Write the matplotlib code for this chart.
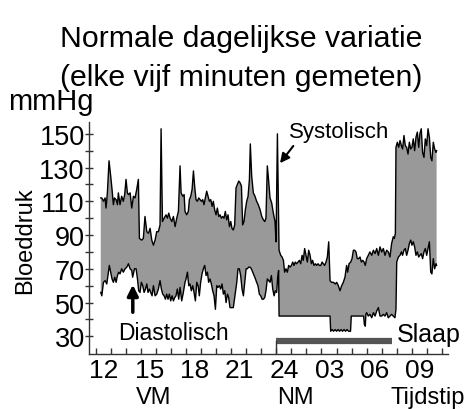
import numpy as np
import matplotlib
matplotlib.use('Agg')
import matplotlib.pyplot as plt

plt.rcParams['font.family'] = ['Liberation Sans', 'DejaVu Sans']

# clock time in hours (past 24 = next morning), pressure in mmHg
t_sys = [11.78, 11.85, 11.96, 12.07, 12.13, 12.22, 12.33, 12.44, 12.53, 12.62,
         12.69, 12.80, 12.89, 12.95, 13.06, 13.17, 13.28, 13.37, 13.46, 13.55,
         13.62, 13.73, 13.84, 13.95, 14.06, 14.17, 14.28, 14.35, 14.50, 14.61,
         14.72, 14.84, 14.95, 15.06, 15.17, 15.28, 15.39, 15.50, 15.61, 15.72,
         15.79, 15.88, 15.99, 16.12, 16.21, 16.30, 16.39, 16.50, 16.61, 16.72,
         16.83, 16.94, 17.05, 17.12, 17.23, 17.32, 17.38, 17.49, 17.60, 17.67,
         17.76, 17.85, 17.94, 18.02, 18.11, 18.20, 18.29, 18.38, 18.47, 18.56,
         18.64, 18.73, 18.82, 18.91, 19.00, 19.09, 19.18, 19.26, 19.35, 19.44,
         19.53, 19.62, 19.71, 19.80, 19.88, 19.97, 20.06, 20.15, 20.24, 20.33,
         20.42, 20.50, 20.59, 20.68, 20.77, 20.86, 20.95, 21.04, 21.13, 21.21,
         21.30, 21.39, 21.48, 21.57, 21.66, 21.72, 21.81, 21.92, 22.03, 22.14,
         22.25, 22.37, 22.48, 22.59, 22.68, 22.76, 22.85, 22.94, 23.03, 23.14,
         23.25, 23.36, 23.43, 23.52, 23.63, 23.74, 23.83, 23.92, 24.00, 24.09,
         24.18, 24.27, 24.36, 24.45, 24.54, 24.62, 24.71, 24.80, 24.89, 24.98,
         25.07, 25.16, 25.24, 25.33, 25.42, 25.51, 25.60, 25.69, 25.78, 25.86,
         25.95, 26.04, 26.13, 26.22, 26.31, 26.40, 26.49, 26.57, 26.66, 26.75,
         26.84, 26.93, 27.02, 27.11, 27.24, 27.37, 27.46, 27.57, 27.68, 27.79,
         27.90, 28.01, 28.12, 28.19, 28.28, 28.39, 28.48, 28.57, 28.66, 28.74,
         28.83, 28.92, 29.01, 29.10, 29.19, 29.28, 29.36, 29.45, 29.56, 29.67,
         29.79, 29.90, 30.01, 30.12, 30.23, 30.34, 30.45, 30.56, 30.67, 30.78,
         30.89, 31.00, 31.11, 31.22, 31.29, 31.36, 31.40, 31.49, 31.58, 31.67,
         31.76, 31.84, 31.93, 32.02, 32.11, 32.20, 32.29, 32.38, 32.46, 32.55,
         32.64, 32.73, 32.82, 32.91, 32.99, 33.08, 33.17, 33.26, 33.35, 33.44,
         33.53, 33.62, 33.71, 33.79, 33.88, 33.97, 34.06, 34.10]
systolic = [112, 112, 110, 112, 106, 115, 134, 125, 117, 108,
            112, 111, 108, 115, 108, 113, 110, 114, 123, 115,
            114, 115, 106, 113, 112, 117, 123, 88, 87, 88,
            101, 92, 91, 94, 87, 84, 87, 92, 92, 96,
            153, 98, 100, 102, 100, 103, 100, 98, 101, 95,
            100, 104, 131, 115, 113, 114, 104, 102, 104, 111,
            113, 117, 128, 119, 111, 110, 112, 111, 110, 111,
            108, 112, 116, 113, 110, 111, 107, 110, 105, 102,
            106, 101, 102, 100, 101, 100, 104, 99, 102, 95,
            98, 94, 93, 96, 118, 120, 122, 121, 119, 96,
            98, 105, 110, 113, 123, 144, 125, 115, 113, 110,
            108, 105, 101, 99, 98, 100, 131, 122, 112, 109,
            103, 98, 86, 150, 81, 78, 77, 75, 68, 70,
            68, 72, 71, 72, 74, 72, 74, 73, 74, 75,
            73, 78, 75, 82, 78, 74, 81, 78, 73, 75,
            72, 73, 72, 73, 72, 72, 74, 73, 72, 74,
            77, 86, 63, 62, 62, 61, 62, 60, 57, 60,
            62, 65, 72, 68, 73, 74, 76, 81, 81, 80,
            76, 76, 77, 74, 75, 74, 72, 76, 78, 80,
            78, 81, 79, 82, 78, 83, 80, 82, 78, 81,
            80, 77, 85, 89, 88, 91, 142, 145, 142, 146,
            143, 141, 149, 143, 142, 138, 145, 141, 142, 147,
            140, 148, 151, 142, 150, 153, 139, 136, 147, 143,
            153, 148, 136, 134, 145, 141, 139, 140]

t_dia = [11.78, 11.85, 11.96, 12.07, 12.18, 12.29, 12.35, 12.44, 12.53, 12.62,
         12.71, 12.80, 12.89, 12.97, 13.06, 13.17, 13.28, 13.40, 13.51, 13.62,
         13.73, 13.84, 13.90, 14.02, 14.13, 14.22, 14.30, 14.39, 14.48, 14.57,
         14.66, 14.75, 14.84, 14.92, 15.01, 15.10, 15.19, 15.28, 15.39, 15.50,
         15.61, 15.72, 15.81, 15.90, 15.99, 16.08, 16.16, 16.25, 16.34, 16.43,
         16.52, 16.61, 16.70, 16.78, 16.87, 16.96, 17.05, 17.16, 17.27, 17.38,
         17.45, 17.54, 17.63, 17.71, 17.80, 17.89, 17.98, 18.07, 18.16, 18.25,
         18.33, 18.42, 18.51, 18.60, 18.69, 18.78, 18.87, 18.95, 19.04, 19.13,
         19.22, 19.31, 19.40, 19.49, 19.57, 19.66, 19.75, 19.84, 19.93, 20.02,
         20.11, 20.20, 20.28, 20.37, 20.48, 20.59, 20.70, 20.82, 20.90, 20.99,
         21.08, 21.17, 21.26, 21.35, 21.44, 21.52, 21.61, 21.70, 21.79, 21.88,
         21.97, 22.06, 22.14, 22.23, 22.32, 22.41, 22.50, 22.59, 22.68, 22.76,
         22.85, 22.94, 23.03, 23.12, 23.21, 23.30, 23.38, 23.47, 23.54, 23.60,
         23.63, 27.02, 27.06, 27.15, 27.25, 27.35, 27.45, 27.55, 27.65, 27.75,
         27.85, 27.95, 28.05, 28.15, 28.25, 28.38, 28.43, 29.25, 29.30, 29.36,
         29.40, 29.45, 29.56, 29.67, 29.79, 29.90, 30.01, 30.12, 30.23, 30.34,
         30.45, 30.56, 30.67, 30.78, 30.89, 31.00, 31.11, 31.22, 31.33, 31.40,
         31.45, 31.56, 31.67, 31.76, 31.84, 31.93, 32.02, 32.11, 32.20, 32.29,
         32.38, 32.46, 32.55, 32.64, 32.73, 32.82, 32.91, 32.99, 33.08, 33.17,
         33.26, 33.35, 33.44, 33.53, 33.62, 33.71, 33.79, 33.88, 33.97, 34.06,
         34.10]
diastolic = [56, 54, 62, 63, 61, 68, 72, 68, 64, 62,
             65, 62, 66, 68, 67, 70, 68, 70, 71, 73,
             70, 69, 65, 70, 70, 64, 57, 56, 62, 60,
             56, 58, 61, 56, 58, 56, 54, 60, 54, 55,
             58, 63, 58, 55, 54, 52, 55, 52, 55, 51,
             54, 51, 53, 54, 58, 52, 59, 51, 56, 62,
             64, 68, 60, 61, 57, 60, 56, 51, 62, 60,
             54, 62, 67, 70, 72, 66, 68, 62, 64, 61,
             57, 54, 46, 60, 59, 60, 58, 61, 55, 57,
             50, 55, 53, 47, 47, 47, 54, 62, 70, 70,
             66, 58, 54, 62, 70, 70, 71, 71, 70, 68,
             66, 64, 62, 60, 55, 54, 52, 52, 53, 57,
             64, 63, 62, 66, 58, 54, 57, 56, 65, 69,
             42, 42, 33, 34, 33, 34, 33, 34, 33, 34,
             33, 34, 33, 34, 33, 33, 42, 42, 37, 36,
             43, 44, 42, 43, 41, 44, 42, 45, 47, 42,
             42, 43, 42, 44, 41, 42, 43, 42, 41, 46,
             74, 77, 78, 80, 78, 81, 82, 78, 81, 85,
             87, 84, 86, 83, 78, 80, 77, 78, 79, 76,
             80, 82, 78, 82, 86, 68, 67, 76, 70, 73,
             72]

hour_ticks = [12, 15, 18, 21, 24, 27, 30, 33]
hour_labels = ['12', '15', '18', '21', '24', '03', '06', '09']
sleep_start, sleep_end = 23.45, 31.14

t_sys = np.array(t_sys)
t_dia = np.array(t_dia)
systolic = np.array(systolic)
diastolic = np.array(diastolic)

fig = plt.figure(figsize=(4.69, 4.10), dpi=100)
ax = fig.add_axes([0.1898, 0.1341, 0.7655, 0.5659])

# shaded band between the two pressures
ax.fill(np.concatenate([t_sys, t_dia[::-1]]),
        np.concatenate([systolic, diastolic[::-1]]),
        color='#999999', lw=0, zorder=1)
ax.plot(t_sys, systolic, color='black', lw=1.0, zorder=2)
ax.plot(t_dia, diastolic, color='black', lw=1.0, zorder=2)

ax.set_xlim(11.0, 34.86)
ax.set_ylim(19.5, 157)

for side in ['top', 'right']:
    ax.spines[side].set_visible(False)
for side in ['left', 'bottom']:
    ax.spines[side].set_color('#333333')
    ax.spines[side].set_linewidth(1.0)

ax.set_yticks(np.arange(30, 151, 20))
ax.set_yticks(np.arange(40, 141, 20), minor=True)
ax.tick_params(axis='y', which='both', direction='inout', length=6, width=1,
               color='#333333', labelsize=19.5, pad=0)

ax.set_xticks(hour_ticks)
ax.set_xticklabels(hour_labels)
ax.set_xticks(11.45 + np.arange(24), minor=True)
ax.tick_params(axis='x', which='major', length=0, labelsize=19, pad=3)
ax.tick_params(axis='x', which='minor', direction='in', length=4, width=1,
               color='#333333')

# sleep period bar
ax.plot([sleep_start, sleep_end], [27.2, 27.2], color='#555555', lw=4.5,
        solid_capstyle='butt', zorder=3)
ax.plot([sleep_start, sleep_start], [19.5, 27.2], color='#333333', lw=1.0,
        zorder=3)
ax.text(31.45, 27.4, 'Slaap', fontsize=18, ha='left', va='baseline')

ax.text(24.29, 148.2, 'Systolisch', fontsize=16, ha='left', va='baseline')
ax.annotate('', xy=(23.58, 131.3), xytext=(24.69, 144.1),
            arrowprops=dict(arrowstyle='-|>', lw=1.5, color='black',
                            mutation_scale=14))

ax.text(12.93, 28.4, 'Diastolisch', fontsize=16.5, ha='left', va='baseline')
ax.annotate('', xy=(13.91, 62.2), xytext=(13.91, 42.6),
            arrowprops=dict(arrowstyle='-|>', lw=2.5, color='black',
                            mutation_scale=16))

# second row under the hour labels
xt = ax.get_xaxis_transform()
for xpos, word in [(15.3, 'VM'), (24.7, 'NM'), (33.5, 'Tijdstip')]:
    ax.text(xpos, -0.212, word, transform=xt, fontsize=17, ha='center',
            va='baseline', clip_on=False)

fig.text(0.514, 0.886, 'Normale dagelijkse variatie', fontsize=21.8,
         ha='center', va='baseline')
fig.text(0.514, 0.790, '(elke vijf minuten gemeten)', fontsize=21.8,
         ha='center', va='baseline')
fig.text(0.017, 0.732, 'mmHg', fontsize=21, ha='left', va='baseline')
fig.text(0.053, 0.412, 'Bloeddruk', fontsize=17, rotation=90,
         ha='center', va='center')

fig.savefig('out.png', dpi=100)
